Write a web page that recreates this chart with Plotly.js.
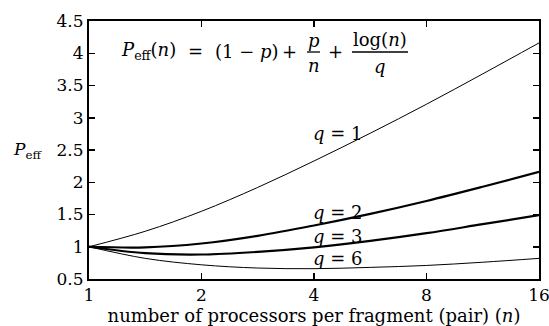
<!DOCTYPE html>
<html>
<head>
<meta charset="utf-8">
<script src="https://cdn.plot.ly/plotly-3.0.1.min.js"></script>
<style>
  html, body { margin: 0; padding: 0; background: #fff; }
  #chart { width: 549px; height: 326px; }
</style>
</head>
<body>
<div id="chart"></div>
<script>
// processors per fragment (log2 spaced samples)
var nVals = [1, 1.414, 2, 2.828, 4, 5.657, 8, 11.31, 16];
// values
var q1 = [1.0, 1.24, 1.55, 1.92, 2.33, 2.76, 3.21, 3.68, 4.16];
var q2 = [1.0, 0.99, 1.05, 1.17, 1.33, 1.51, 1.71, 1.93, 2.16];
var q3 = [1.0, 0.90, 0.88, 0.92, 0.99, 1.09, 1.21, 1.35, 1.49];
var q6 = [1.0, 0.82, 0.72, 0.67, 0.66, 0.68, 0.71, 0.76, 0.82];
var xTicks = [1, 2, 4, 8, 16];

var FONT = "DejaVu Serif";

// pixel -> paper helpers (plot area 89..539 x 21..279)
function px(x) { return (x - 89) / 450; }
function py(y) { return (279 - y) / 258; }

function curve(y, w) {
  return {
    x: nVals, y: y, type: 'scatter', mode: 'lines',
    line: { color: '#000', width: w, shape: 'spline' },
    hoverinfo: 'none'
  };
}

var data = [curve(q1, 1), curve(q2, 2.2), curve(q3, 2.2), curve(q6, 1)];

function txt(x, y, s, anchor, size) {
  return {
    xref: 'paper', yref: 'paper', x: px(x), y: py(y), text: s,
    showarrow: false, xanchor: anchor || 'center', yanchor: 'middle',
    font: { family: FONT, size: size || 18, color: '#000' }
  };
}

var annotations = [
  // formula pieces
  txt(119, 51, '<i>P</i><sub>eff</sub>(<i>n</i>)', 'left'),
  txt(195, 51, '='),
  txt(213, 51, '(1 − <i>p</i>)', 'left'),
  txt(289, 51, '+'),
  txt(313.5, 40, '<i>p</i>'),
  txt(313.5, 65, '<i>n</i>'),
  txt(335, 51, '+'),
  txt(380, 39, 'log(<i>n</i>)'),
  txt(380, 66, '<i>q</i>'),
  // curve labels
  txt(338, 133, '<i>q</i> = 1'),
  txt(338, 212, '<i>q</i> = 2'),
  txt(338, 236, '<i>q</i> = 3'),
  txt(338, 258, '<i>q</i> = 6'),
  // y axis label
  txt(28, 150, '<i>P</i><sub>eff</sub>', 'center', 17)
];

var shapes = [
  { type: 'line', xref: 'paper', yref: 'paper', x0: px(307), x1: px(320), y0: py(52), y1: py(52), line: { color: '#000', width: 1.3 } },
  { type: 'line', xref: 'paper', yref: 'paper', x0: px(352), x1: px(408), y0: py(52), y1: py(52), line: { color: '#000', width: 1.3 } }
];

var axisCommon = {
  showgrid: false, zeroline: false,
  showline: true, linecolor: '#000', linewidth: 2, mirror: 'allticks',
  ticks: 'inside', ticklen: 6, tickwidth: 1.5, tickcolor: '#000',
  ticklabeloverflow: 'allow',
  tickfont: { family: FONT, size: 17, color: '#000' }
};

var layout = {
  width: 549, height: 326,
  margin: { l: 89, r: 10, t: 21, b: 47 },
  paper_bgcolor: '#fff', plot_bgcolor: '#fff',
  showlegend: false,
  font: { family: FONT, color: '#000' },
  xaxis: Object.assign({}, axisCommon, {
    type: 'log', range: [0, Math.log10(16)],
    tickvals: xTicks, ticktext: xTicks.map(String),
    title: { text: 'number of processors per fragment (pair) (<i>n</i>)', font: { family: FONT, size: 18 }, standoff: 2 }
  }),
  yaxis: Object.assign({}, axisCommon, {
    range: [0.5, 4.5], dtick: 0.5, tick0: 0.5
  }),
  annotations: annotations,
  shapes: shapes
};

Plotly.newPlot('chart', data, layout, { staticPlot: true });
</script>
</body>
</html>
